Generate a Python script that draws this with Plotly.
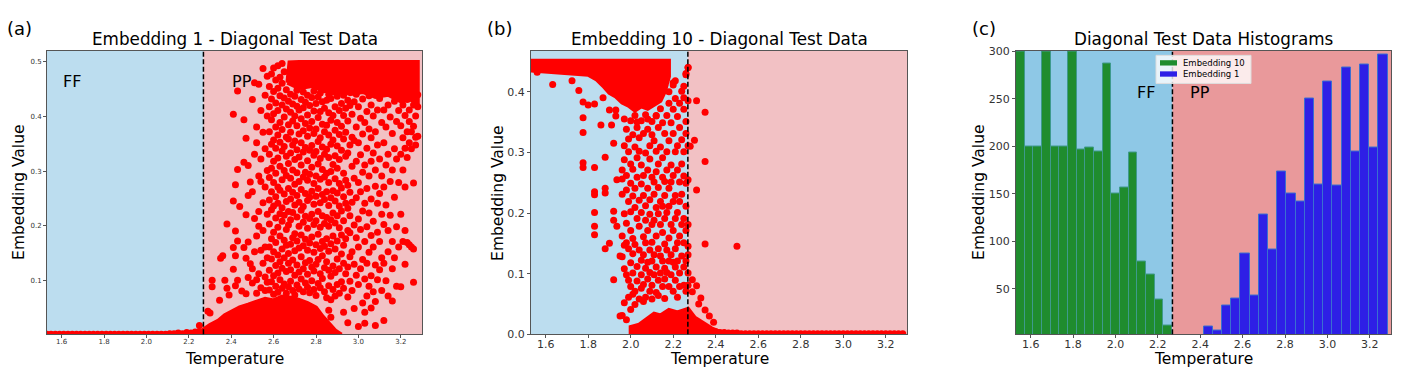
import plotly.graph_objects as go

# ─────────────────────────────────────────
# data
# ─────────────────────────────────────────

T_C = 2.269  # critical temperature (dashed line)

# (a) Embedding 1 ─ flat run of points along zero in the FF phase
emb1_ff_x = [1.53, 1.55, 1.57, 1.59, 1.61, 1.63, 1.65, 1.67, 1.69, 1.71, 1.73, 1.75, 1.77,
             1.79, 1.81, 1.83, 1.85, 1.87, 1.89, 1.91, 1.93, 1.95, 1.97, 1.99, 2.01, 2.03,
             2.05, 2.07, 2.09, 2.11, 2.13, 2.15, 2.17, 2.19, 2.21, 2.23, 2.25, 2.27]
emb1_ff_y = [0.001, 0.001, 0.001, 0.001, 0.001, 0.001, 0.001, 0.001, 0.001, 0.001, 0.001,
             0.001, 0.001, 0.001, 0.001, 0.001, 0.001, 0.001, 0.001, 0.001, 0.001, 0.001,
             0.001, 0.001, 0.001, 0.001, 0.001, 0.001, 0.001, 0.002, 0.002, 0.003, 0.002,
             0.004, 0.003, 0.005, 0.006, 0.004]

# (a) saturated clouds (outline of the solid red areas)
emb1_top_x = [2.665, 2.675, 2.72, 2.8, 2.9, 3.0, 3.1, 3.2, 3.28, 3.28, 3.24, 3.2, 3.14,
              3.08, 3.02, 2.96, 2.9, 2.84, 2.78, 2.72, 2.68, 2.665]
emb1_top_y = [0.462, 0.499, 0.5, 0.5, 0.5, 0.5, 0.5, 0.5, 0.5, 0.425, 0.432, 0.428, 0.44,
              0.436, 0.445, 0.441, 0.452, 0.447, 0.456, 0.452, 0.46, 0.462]
emb1_low_x = [2.27, 2.27, 2.30, 2.34, 2.37, 2.40, 2.44, 2.48, 2.52, 2.56, 2.60, 2.64, 2.68,
              2.72, 2.76, 2.80, 2.83, 2.86, 2.89, 2.92]
emb1_low_y = [0.0, 0.01, 0.018, 0.026, 0.036, 0.042, 0.05, 0.055, 0.06, 0.066, 0.063, 0.07,
              0.068, 0.064, 0.058, 0.05, 0.034, 0.02, 0.008, 0.0]

# (a) individual points near the transition
emb1_sparse = [(2.25, 0.017), (2.29, 0.043), (2.30, 0.04), (2.31, 0.10), (2.31, 0.088),
               (2.345, 0.063), (2.35, 0.14), (2.36, 0.145), (2.38, 0.203), (2.37, 0.10),
               (2.38, 0.085), (2.39, 0.073), (2.41, 0.404), (2.43, 0.447), (2.46, 0.394),
               (2.42, 0.275), (2.43, 0.303), (2.41, 0.245), (2.42, 0.19), (2.43, 0.172),
               (2.41, 0.16), (2.42, 0.145), (2.41, 0.12), (2.43, 0.10), (2.42, 0.09),
               (2.44, 0.235), (2.47, 0.36), (2.46, 0.316), (2.48, 0.31), (2.49, 0.28),
               (2.48, 0.255), (2.47, 0.22), (2.46, 0.16), (2.48, 0.17), (2.47, 0.14),
               (2.49, 0.13), (2.48, 0.105), (2.45, 0.08), (2.47, 0.075)]

# (a) columns of points in the PP phase
emb1_cols_x = [2.50, 2.51, 2.52, 2.53, 2.54, 2.55, 2.56, 2.57, 2.58, 2.59,
               2.60, 2.61, 2.62, 2.63, 2.64, 2.65, 2.66, 2.67, 2.68, 2.69,
               2.70, 2.71, 2.72, 2.73, 2.74, 2.75, 2.76, 2.77, 2.78, 2.79,
               2.80, 2.81, 2.82, 2.83, 2.84, 2.85, 2.86, 2.87, 2.88, 2.89,
               2.90, 2.91, 2.92, 2.93, 2.94, 2.95, 2.96, 2.97, 2.98, 2.99,
               3.00, 3.01, 3.02, 3.03, 3.04, 3.05, 3.06, 3.07, 3.08, 3.09,
               3.10, 3.11, 3.12, 3.13, 3.14, 3.15, 3.16, 3.17, 3.18, 3.19,
               3.20, 3.21, 3.22, 3.23, 3.24, 3.25, 3.26, 3.27, 3.28]
emb1_cols_y = [
    [0.095, 0.121, 0.262, 0.431],
    [0.152, 0.213, 0.331, 0.462],
    [0.076, 0.101, 0.181, 0.352, 0.381],
    [0.112, 0.199, 0.226, 0.291, 0.459],
    [0.086, 0.155, 0.281, 0.322, 0.411],
    [0.131, 0.191, 0.242, 0.371, 0.488],
    [0.081, 0.106, 0.161, 0.271, 0.341, 0.439],
    [0.096, 0.141, 0.221, 0.301, 0.401, 0.474],
    [0.082, 0.118, 0.161, 0.203, 0.247, 0.288, 0.331, 0.372, 0.418, 0.455],
    [0.097, 0.139, 0.176, 0.229, 0.262, 0.305, 0.349, 0.394, 0.432, 0.478],
    [0.074, 0.108, 0.152, 0.188, 0.236, 0.279, 0.318, 0.357, 0.405, 0.446, 0.489],
    [0.089, 0.127, 0.169, 0.214, 0.253, 0.296, 0.342, 0.381, 0.425, 0.467],
    [0.078, 0.113, 0.146, 0.197, 0.241, 0.271, 0.324, 0.366, 0.411, 0.452, 0.493],
    [0.101, 0.134, 0.181, 0.222, 0.265, 0.309, 0.353, 0.389, 0.438, 0.472],
    [0.085, 0.122, 0.157, 0.208, 0.233, 0.284, 0.337, 0.376, 0.421, 0.461, 0.497],
    [0.093, 0.141, 0.173, 0.219, 0.258, 0.301, 0.345, 0.399, 0.434, 0.482],
    [0.076, 0.116, 0.164, 0.193, 0.244, 0.292, 0.327, 0.362, 0.414, 0.449],
    [0.088, 0.131, 0.149, 0.201, 0.226, 0.268, 0.314, 0.359, 0.385, 0.428],
    [0.098, 0.119, 0.166, 0.211, 0.249, 0.287, 0.333, 0.371, 0.408, 0.441],
    [0.081, 0.137, 0.178, 0.224, 0.261, 0.302, 0.348, 0.392, 0.423],
    [0.073, 0.109, 0.154, 0.185, 0.238, 0.276, 0.321, 0.355, 0.401, 0.437],
    [0.091, 0.128, 0.172, 0.216, 0.255, 0.297, 0.339, 0.383, 0.419, 0.448],
    [0.084, 0.115, 0.159, 0.199, 0.243, 0.281, 0.326, 0.368, 0.412],
    [0.102, 0.143, 0.183, 0.228, 0.266, 0.311, 0.352, 0.396, 0.431],
    [0.079, 0.121, 0.163, 0.206, 0.235, 0.289, 0.335, 0.374, 0.416, 0.445],
    [0.095, 0.132, 0.175, 0.217, 0.259, 0.298, 0.343, 0.387, 0.426],
    [0.087, 0.111, 0.155, 0.195, 0.246, 0.283, 0.319, 0.364, 0.403, 0.439],
    [0.077, 0.136, 0.168, 0.213, 0.252, 0.294, 0.338, 0.379, 0.42],
    [0.099, 0.124, 0.179, 0.221, 0.263, 0.307, 0.347, 0.391, 0.435],
    [0.083, 0.117, 0.151, 0.202, 0.239, 0.277, 0.329, 0.369, 0.41, 0.447],
    [0.072, 0.129, 0.165, 0.209, 0.254, 0.291, 0.336, 0.377, 0.424],
    [0.094, 0.138, 0.184, 0.226, 0.268, 0.313, 0.354, 0.398, 0.436],
    [0.086, 0.112, 0.158, 0.197, 0.242, 0.285, 0.323, 0.361, 0.409, 0.443],
    [0.103, 0.145, 0.171, 0.218, 0.257, 0.303, 0.344, 0.386, 0.427],
    [0.079, 0.123, 0.162, 0.204, 0.248, 0.289, 0.331, 0.372, 0.415, 0.449],
    [0.068, 0.134, 0.176, 0.215, 0.262, 0.296, 0.34, 0.384, 0.43],
    [0.045, 0.09, 0.118, 0.153, 0.199, 0.237, 0.279, 0.325, 0.366, 0.407, 0.441],
    [0.032, 0.064, 0.107, 0.167, 0.211, 0.251, 0.299, 0.349, 0.393, 0.433],
    [0.083, 0.126, 0.181, 0.223, 0.264, 0.312, 0.357, 0.402, 0.445],
    [0.071, 0.114, 0.157, 0.205, 0.245, 0.286, 0.328, 0.375, 0.418],
    [0.092, 0.139, 0.172, 0.218, 0.26, 0.305, 0.346, 0.389, 0.437],
    [0.076, 0.121, 0.196, 0.236, 0.277, 0.321, 0.367, 0.411, 0.446],
    [0.097, 0.148, 0.183, 0.227, 0.269, 0.338, 0.382, 0.424],
    [0.041, 0.085, 0.131, 0.164, 0.209, 0.253, 0.296, 0.359, 0.402, 0.439],
    [0.112, 0.176, 0.241, 0.283, 0.327, 0.371, 0.415],
    [0.022, 0.069, 0.124, 0.191, 0.232, 0.274, 0.333, 0.392, 0.43],
    [0.098, 0.143, 0.187, 0.218, 0.261, 0.348, 0.42, 0.447],
    [0.081, 0.152, 0.243, 0.309, 0.362, 0.404],
    [0.048, 0.129, 0.201, 0.287, 0.356, 0.427],
    [0.109, 0.178, 0.251, 0.318, 0.381, 0.441],
    [0.015, 0.092, 0.161, 0.212, 0.279, 0.352, 0.418],
    [0.121, 0.193, 0.262, 0.33, 0.397],
    [0.058, 0.138, 0.227, 0.298, 0.368, 0.432],
    [0.021, 0.041, 0.102, 0.171, 0.241, 0.311, 0.389],
    [0.071, 0.131, 0.198, 0.268, 0.342, 0.409],
    [0.089, 0.151, 0.223, 0.291, 0.377, 0.438],
    [0.049, 0.108, 0.182, 0.249, 0.318, 0.361, 0.421],
    [0.079, 0.161, 0.208, 0.333, 0.401],
    [0.017, 0.061, 0.128, 0.272, 0.302, 0.372],
    [0.101, 0.188, 0.241, 0.348, 0.412],
    [0.119, 0.171, 0.259, 0.322, 0.433],
    [0.081, 0.141, 0.221, 0.291, 0.389],
    [0.026, 0.131, 0.202, 0.271, 0.352, 0.412],
    [0.099, 0.238, 0.311, 0.381],
    [0.071, 0.152, 0.191, 0.331, 0.421],
    [0.219, 0.281, 0.399],
    [0.062, 0.121, 0.171, 0.302, 0.369],
    [0.141, 0.252, 0.341, 0.428],
    [0.089, 0.198, 0.322, 0.391],
    [0.161, 0.279, 0.411],
    [0.088, 0.221, 0.331, 0.383, 0.438],
    [0.171, 0.302, 0.361, 0.421],
    [0.129, 0.191, 0.271, 0.342, 0.402],
    [0.169, 0.325, 0.372, 0.431],
    [0.165, 0.352, 0.391, 0.412],
    [0.161, 0.341, 0.372, 0.441],
    [0.096, 0.157, 0.278, 0.382, 0.421],
    [0.348, 0.362, 0.401, 0.432],
    [0.364, 0.418, 0.44],
]

# (b) Embedding 10
emb10_top_x = [1.53, 2.18, 2.18, 2.16, 2.14, 2.11, 2.08, 2.05, 2.02, 1.99, 1.96, 1.93, 1.9,
               1.87, 1.84, 1.80, 1.70, 1.60, 1.53]
emb10_top_y = [0.451, 0.451, 0.425, 0.40, 0.385, 0.378, 0.372, 0.376, 0.369, 0.377, 0.382,
               0.392, 0.398, 0.41, 0.42, 0.428, 0.431, 0.433, 0.435]
emb10_low_x = [2.0, 2.0, 2.04, 2.08, 2.11, 2.14, 2.18, 2.22, 2.27, 2.30, 2.34, 2.38, 2.42,
               2.42]
emb10_low_y = [0.0, 0.012, 0.016, 0.026, 0.034, 0.031, 0.04, 0.036, 0.042, 0.028, 0.018,
               0.01, 0.004, 0.0]

emb10_pp_x = [2.40, 2.42, 2.44, 2.46, 2.48, 2.50, 2.52, 2.54, 2.56, 2.58, 2.60, 2.62, 2.64,
              2.66, 2.68, 2.70, 2.72, 2.74, 2.76, 2.78, 2.80, 2.82, 2.84, 2.86, 2.88, 2.90,
              2.92, 2.94, 2.96, 2.98, 3.00, 3.02, 3.04, 3.06, 3.08, 3.10, 3.12, 3.14, 3.16,
              3.18, 3.20, 3.22, 3.24, 3.26, 3.28]
emb10_pp_y = [0.004, 0.003, 0.003, 0.002, 0.002, 0.002, 0.001, 0.001, 0.001, 0.001, 0.001,
              0.001, 0.001, 0.001, 0.001, 0.001, 0.001, 0.001, 0.001, 0.001, 0.001, 0.001,
              0.001, 0.001, 0.001, 0.001, 0.001, 0.001, 0.001, 0.001, 0.001, 0.001, 0.001,
              0.001, 0.001, 0.001, 0.001, 0.001, 0.001, 0.001, 0.001, 0.001, 0.001, 0.001,
              0.001]

emb10_sparse = [(1.56, 0.432), (1.633, 0.412), (1.724, 0.418), (1.756, 0.402),
                (1.776, 0.383), (1.80, 0.378), (1.776, 0.357), (1.776, 0.333),
                (1.776, 0.283), (1.776, 0.275), (1.83, 0.275), (1.83, 0.235), (1.83, 0.23),
                (1.83, 0.201), (1.83, 0.178), (1.83, 0.164), (1.88, 0.292), (1.88, 0.241),
                (1.88, 0.233), (1.88, 0.141), (1.92, 0.203), (1.92, 0.188), (1.92, 0.09),
                (1.935, 0.178), (1.95, 0.129), (1.935, 0.255), (1.92, 0.315), (1.91, 0.345),
                (1.86, 0.345), (1.93, 0.37), (1.95, 0.03), (1.90, 0.15), (1.83, 0.38),
                (1.87, 0.39), (1.90, 0.37), (1.93, 0.36), (1.97, 0.355), (2.03, 0.35),
                (2.08, 0.355), (2.12, 0.36), (2.18, 0.40), (2.20, 0.415), (2.21, 0.418),
                (2.25, 0.39), (2.26, 0.43), (2.27, 0.44), (2.16, 0.41),
                (2.31, 0.385), (2.35, 0.366), (2.35, 0.285), (2.31, 0.238), (2.35, 0.149),
                (2.50, 0.145), (2.29, 0.09), (2.31, 0.08), (2.29, 0.07), (2.33, 0.06),
                (2.32, 0.05), (2.35, 0.04), (2.37, 0.03), (2.39, 0.02), (2.30, 0.32),
                (2.28, 0.31)]

emb10_cols_x = [1.96, 1.97, 1.98, 1.99, 2.00, 2.01, 2.02, 2.03, 2.04, 2.05, 2.06, 2.07,
                2.08, 2.09, 2.10, 2.11, 2.12, 2.13, 2.14, 2.15, 2.16, 2.17, 2.18, 2.19,
                2.20, 2.21, 2.22, 2.23, 2.24, 2.25, 2.26, 2.27]
emb10_cols_y = [
    [0.031, 0.128, 0.162, 0.231, 0.256, 0.271],
    [0.052, 0.108, 0.147, 0.199, 0.288, 0.311],
    [0.024, 0.098, 0.151, 0.183, 0.238, 0.262, 0.338],
    [0.061, 0.089, 0.141, 0.219, 0.301, 0.322],
    [0.041, 0.079, 0.118, 0.171, 0.202, 0.249, 0.281, 0.352],
    [0.066, 0.101, 0.133, 0.158, 0.228, 0.272, 0.329],
    [0.049, 0.071, 0.148, 0.209, 0.241, 0.309, 0.361],
    [0.088, 0.112, 0.191, 0.259, 0.291, 0.341],
    [0.058, 0.139, 0.178, 0.221, 0.302, 0.324],
    [0.076, 0.098, 0.122, 0.201, 0.248, 0.279, 0.352],
    [0.054, 0.082, 0.131, 0.161, 0.229, 0.262, 0.331],
    [0.061, 0.109, 0.151, 0.188, 0.212, 0.299, 0.362],
    [0.091, 0.119, 0.171, 0.241, 0.271, 0.338],
    [0.071, 0.102, 0.139, 0.198, 0.222, 0.289, 0.311],
    [0.058, 0.081, 0.121, 0.152, 0.181, 0.259, 0.329, 0.351],
    [0.098, 0.131, 0.188, 0.231, 0.251, 0.319],
    [0.069, 0.111, 0.162, 0.209, 0.268, 0.302, 0.361],
    [0.064, 0.089, 0.141, 0.199, 0.242, 0.281, 0.341],
    [0.101, 0.129, 0.181, 0.219, 0.309, 0.372],
    [0.079, 0.121, 0.168, 0.211, 0.259, 0.291, 0.349],
    [0.059, 0.091, 0.109, 0.149, 0.191, 0.229, 0.252, 0.331],
    [0.102, 0.139, 0.201, 0.271, 0.301, 0.361],
    [0.079, 0.121, 0.159, 0.211, 0.241, 0.319, 0.381],
    [0.098, 0.131, 0.181, 0.251, 0.279, 0.349],
    [0.071, 0.119, 0.171, 0.219, 0.262, 0.331, 0.371, 0.411],
    [0.089, 0.111, 0.141, 0.191, 0.229, 0.301, 0.389],
    [0.061, 0.121, 0.151, 0.201, 0.271, 0.311, 0.359],
    [0.079, 0.101, 0.162, 0.219, 0.251, 0.341, 0.381],
    [0.129, 0.181, 0.231, 0.281, 0.321, 0.401],
    [0.081, 0.111, 0.151, 0.191, 0.261, 0.301, 0.371, 0.409],
    [0.071, 0.121, 0.171, 0.211, 0.249, 0.331, 0.351, 0.428],
    [0.081, 0.101, 0.131, 0.145, 0.181, 0.255, 0.311, 0.385, 0.44],
]

# (c) histograms (bin centres, counts)
hist10_t = [1.551, 1.592, 1.633, 1.674, 1.715, 1.756, 1.797, 1.838, 1.879, 1.920, 1.960,
            2.001, 2.042, 2.083, 2.124, 2.165, 2.206, 2.247]
hist10_n = [300, 200, 200, 300, 200, 200, 300, 197, 199, 195, 287, 150, 157, 194, 79, 65,
            39, 11]
hist1_t = [2.438, 2.481, 2.524, 2.568, 2.611, 2.655, 2.698, 2.741, 2.785, 2.828, 2.872,
           2.915, 2.958, 3.002, 3.045, 3.089, 3.132, 3.175, 3.219, 3.262]
hist1_n = [10, 6, 32, 40, 87, 43, 128, 91, 174, 150, 142, 250, 160, 268, 159, 283, 195,
           286, 199, 297]

T_TICKS = [1.6, 1.8, 2.0, 2.2, 2.4, 2.6, 2.8, 3.0, 3.2]

# ─────────────────────────────────────────
# style
# ─────────────────────────────────────────
W, H = 1413, 381
FONT = "DejaVu Sans"
RED = "#FF0000"
SPAN_LIGHT = ("#BCDDEF", "#F2C1C4")
SPAN_DARK = ("#8EC8E6", "#E9999B")
GREEN_BAR = "#1F8C2E"
BLUE_BAR = "#2E1FE6"
X_RANGE = [1.531, 3.30]


def flatten(cols_x, cols_y):
    xs, ys = [], []
    for x, col in zip(cols_x, cols_y):
        xs += [x] * len(col)
        ys += col
    return xs, ys


def pairs(pts):
    return [p[0] for p in pts], [p[1] for p in pts]


fig = go.Figure()


def add_points(xs, ys, ax):
    fig.add_trace(go.Scatter(x=xs, y=ys, mode="markers", xaxis="x" + ax, yaxis="y" + ax,
                             marker=dict(size=7, color=RED, line=dict(width=0)),
                             showlegend=False, hoverinfo="skip"))


def add_blob(xs, ys, ax):
    fig.add_trace(go.Scatter(x=xs, y=ys, mode="lines", fill="toself", fillcolor=RED,
                             line=dict(color=RED, width=4), xaxis="x" + ax, yaxis="y" + ax,
                             showlegend=False, hoverinfo="skip"))


# (a)
add_blob(emb1_top_x, emb1_top_y, "")
add_blob(emb1_low_x, emb1_low_y, "")
add_points(emb1_ff_x, emb1_ff_y, "")
add_points(*pairs(emb1_sparse), "")
add_points(*flatten(emb1_cols_x, emb1_cols_y), "")

# (b)
add_blob(emb10_top_x, emb10_top_y, "2")
add_blob(emb10_low_x, emb10_low_y, "2")
add_points(emb10_pp_x, emb10_pp_y, "2")
add_points(*pairs(emb10_sparse), "2")
add_points(*flatten(emb10_cols_x, emb10_cols_y), "2")

# (c)
fig.add_trace(go.Bar(x=hist10_t, y=hist10_n, width=0.0409, name="Embedding 10",
                     marker=dict(color=GREEN_BAR, line=dict(color="#3E9A8C", width=1)),
                     xaxis="x3", yaxis="y3", showlegend=False))
fig.add_trace(go.Bar(x=hist1_t, y=hist1_n, width=0.0434, name="Embedding 1",
                     marker=dict(color=BLUE_BAR, line=dict(color="#3A6FD0", width=1)),
                     xaxis="x3", yaxis="y3", showlegend=False))

# phase spans + critical line
shapes = []
for ax, cols in [("", SPAN_LIGHT), ("2", SPAN_LIGHT), ("3", SPAN_DARK)]:
    xr, yr = "x" + ax, "y" + ax + " domain"
    shapes.append(dict(type="rect", xref=xr, yref=yr, x0=X_RANGE[0], x1=T_C, y0=0, y1=1,
                       fillcolor=cols[0], line=dict(width=0), layer="below"))
    shapes.append(dict(type="rect", xref=xr, yref=yr, x0=T_C, x1=X_RANGE[1], y0=0, y1=1,
                       fillcolor=cols[1], line=dict(width=0), layer="below"))
    shapes.append(dict(type="line", xref=xr, yref=yr, x0=T_C, x1=T_C, y0=0, y1=1,
                       line=dict(color="black", width=1.5, dash="5px,2.5px")))


# legend box for (c), drawn matplotlib-style (compact rows)
def px_rect(x0, y0, x1, y1, **kw):
    return dict(type="rect", xref="paper", yref="paper", x0=x0 / W, x1=x1 / W,
                y0=1 - y1 / H, y1=1 - y0 / H, **kw)


shapes.append(px_rect(1156, 52, 1251, 81, fillcolor="rgba(255,255,255,0.8)",
                      line=dict(color="#DDDDDD", width=1)))
shapes.append(px_rect(1160, 57, 1177, 62.5, fillcolor=GREEN_BAR, line=dict(width=0)))
shapes.append(px_rect(1160, 68.5, 1177, 74, fillcolor=BLUE_BAR, line=dict(width=0)))

# axes
panels_px = [(47, 422), (531, 907), (1016, 1391)]
y_dom = [(H - 340) / H, (H - 47) / H]

axis_common = dict(showline=True, mirror=True, linecolor="#555", linewidth=1,
                   ticks="outside", ticklen=3, tickcolor="#555", showgrid=False,
                   zeroline=False)

layout = dict(width=W, height=H, margin=dict(l=0, r=0, t=0, b=0),
              paper_bgcolor="white", plot_bgcolor="white",
              font=dict(family=FONT, color="black"),
              shapes=shapes, barmode="overlay", bargap=0, showlegend=False)

tick_sizes = [7, 11, 11]
y_specs = [
    dict(range=[0.0008, 0.521], tickvals=[0.1, 0.2, 0.3, 0.4, 0.5], tickformat=".1f"),
    dict(range=[0, 0.468], tickvals=[0.0, 0.1, 0.2, 0.3, 0.4], tickformat=".1f"),
    dict(range=[2.2, 301], tickvals=[50, 100, 150, 200, 250, 300]),
]
for i, ((x0, x1), ys) in enumerate(zip(panels_px, y_specs)):
    n = "" if i == 0 else str(i + 1)
    tf = dict(size=tick_sizes[i], color="#333")
    layout["xaxis" + n] = dict(domain=[x0 / W, x1 / W], range=X_RANGE, tickvals=T_TICKS,
                               tickformat=".1f", anchor="y" + n, tickfont=tf,
                               ticklabelstandoff=-3, **axis_common)
    layout["yaxis" + n] = dict(domain=y_dom, anchor="x" + n, tickfont=tf, **ys,
                               **axis_common)

fig.update_layout(**layout)

# texts
titles = ["Embedding 1 - Diagonal Test Data", "Embedding 10 - Diagonal Test Data",
          "Diagonal Test Data Histograms"]
labels = ["(a)", "(b)", "(c)"]
label_x = [19, 499, 984]
ylabel_x = [19, 498, 979]


def note(text, x, y, size, anchor="center", **kw):
    return dict(text=text, x=x / W, y=1 - y / H, xref="paper", yref="paper",
                xanchor=anchor, yanchor="middle", showarrow=False,
                font=dict(size=size), **kw)


ann = []
for i, (x0, x1) in enumerate(panels_px):
    cx = (x0 + x1) / 2
    ann.append(note(titles[i], cx, 35, 16.8))
    ann.append(note("Temperature", cx, 366, 15.5))
    ann.append(note("Embedding Value", ylabel_x[i], 194, 15.5, textangle=-90))
    ann.append(note(labels[i], label_x[i], 24, 18))

ann.append(note("Embedding 10", 1181, 59.7, 8.5, anchor="left"))
ann.append(note("Embedding 1", 1181, 71.2, 8.5, anchor="left"))

for txt, x, y, ax in [("FF", 1.65, 0.465, ""), ("PP", 2.45, 0.465, ""),
                      ("FF", 2.144, 257, "3"), ("PP", 2.399, 257, "3")]:
    ann.append(dict(text=txt, x=x, y=y, xref="x" + ax, yref="y" + ax, showarrow=False,
                    xanchor="center", yanchor="middle", font=dict(size=16)))

fig.update_layout(annotations=ann)
fig.write_html("out.html", config={"displayModeBar": False},
               post_script="document.body.style.margin='0';")
